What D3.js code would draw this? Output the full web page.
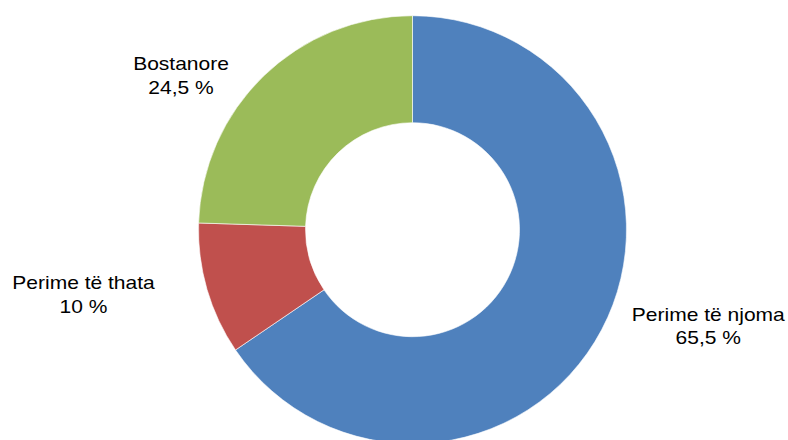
<!DOCTYPE html>
<html><head><meta charset="utf-8">
<script src="https://cdn.jsdelivr.net/npm/d3@7"></script>
<style>body{margin:0;background:#fff}svg{display:block}</style>
</head><body>
<svg id="c" width="788" height="440"></svg>
<script>
const categories = ["Perime të njoma", "Perime të thata", "Bostanore"];
const values = [65.5, 10, 24.5];
const valueLabels = ["65,5 %", "10 %", "24,5 %"];
const colors = ["#4F81BD", "#C0504D", "#9BBB59"];

const svg = d3.select("#c");
const cx = 412.5, cy = 229.7, rOuter = 214, rInner = 107;
const g = svg.append("g").attr("transform", `translate(${cx},${cy})`);
const pie = d3.pie().sort(null).value(d => d)(values);
const arc = d3.arc().innerRadius(rInner).outerRadius(rOuter);
g.selectAll("path").data(pie).enter().append("path")
  .attr("d", arc)
  .attr("fill", (d, i) => colors[i])
  .attr("stroke", "#fff").attr("stroke-width", 0.6);

const labelPos = [[708.3, 320.5], [83.5, 289], [181, 69.8]];
categories.forEach((c, i) => {
  const t = svg.append("text")
    .attr("transform", `translate(${labelPos[i][0]},${labelPos[i][1]}) scale(1.13,1)`)
    .attr("text-anchor", "middle")
    .attr("font-family", "'Liberation Sans', Arial, sans-serif")
    .attr("font-size", 18.6).attr("fill", "#000");
  t.append("tspan").attr("x", 0).attr("y", 0).text(c);
  t.append("tspan").attr("x", 0).attr("y", 23.8).text(valueLabels[i]);
});
</script>
</body></html>
